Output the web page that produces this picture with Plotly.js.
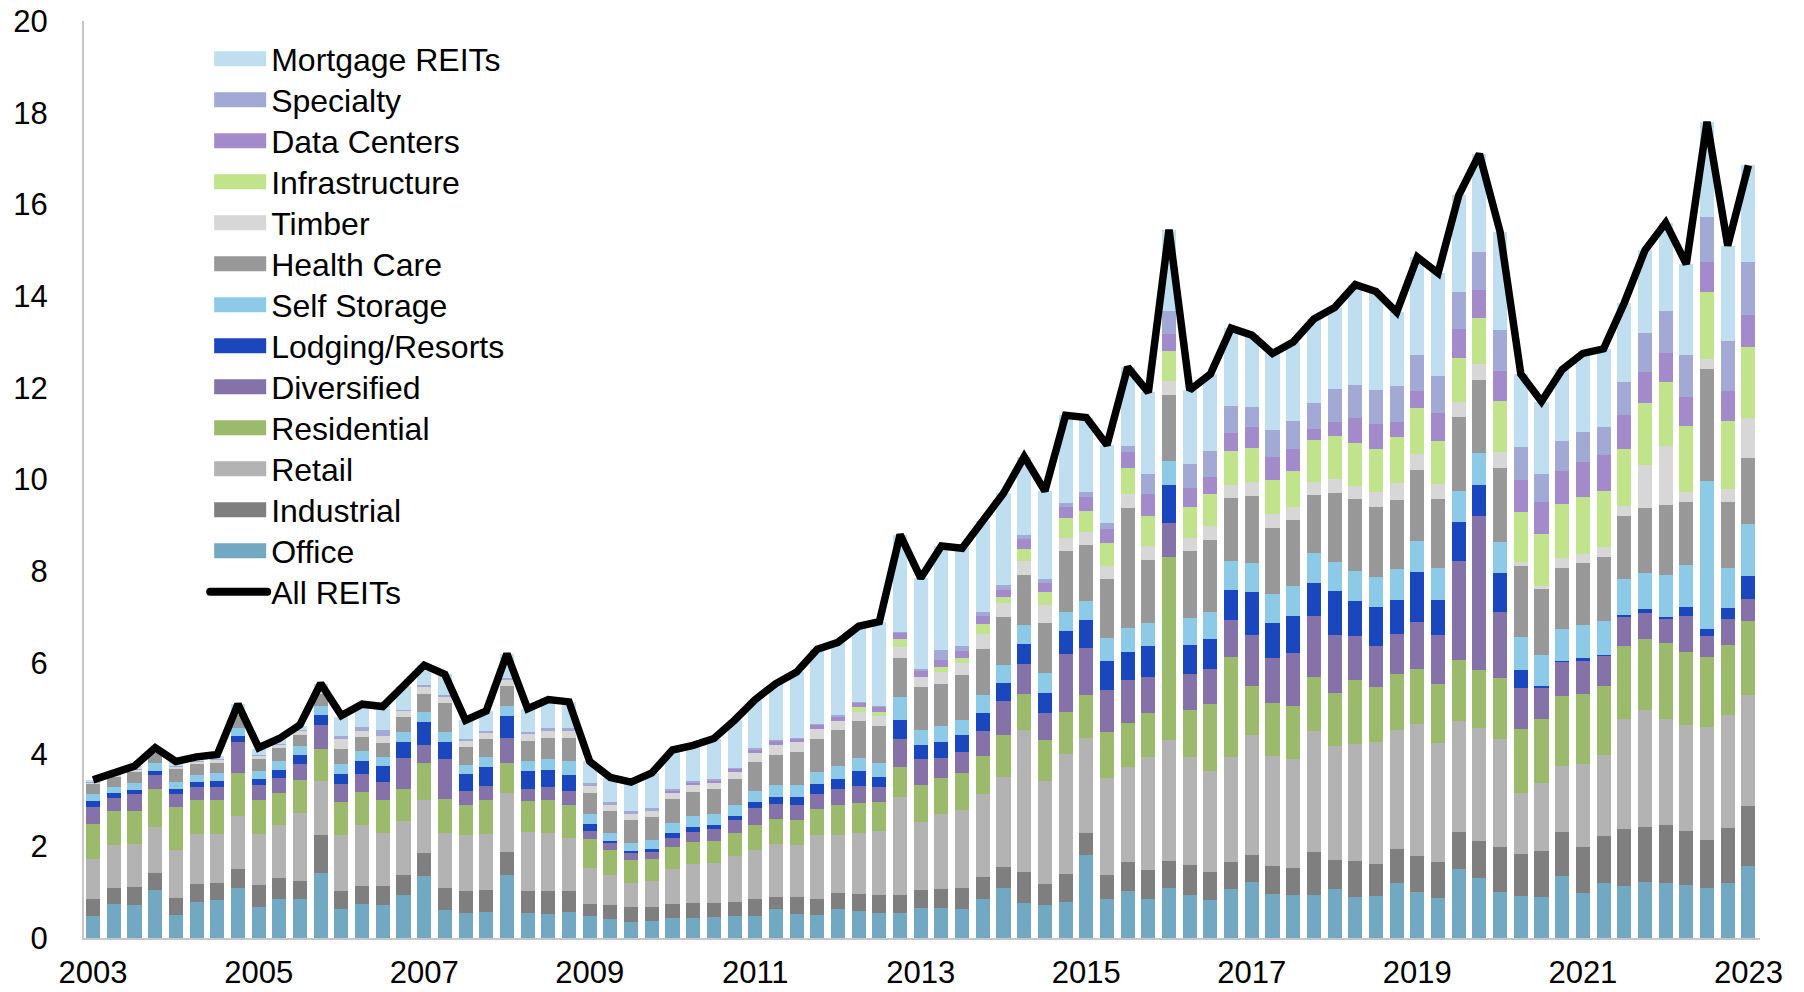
<!DOCTYPE html>
<html>
<head>
<meta charset="utf-8">
<script src="https://cdn.plot.ly/plotly-3.0.1.min.js"></script>
<style>
  html, body { margin: 0; padding: 0; background: #fff; }
  #chart { width: 1804px; height: 992px; }
</style>
</head>
<body>
<div id="chart"></div>
<script>
// Quarterly data, 2003 to 2023 (81 quarters), stacked by property sector
var quarters = []
for (let i = 0; i < 81; i++) {
    quarters.push(2003 + i / 4)
}
var tickYears = [2003, 2005, 2007, 2009, 2011, 2013, 2015, 2017, 2019, 2021, 2023]

var office = [0.49, 0.74, 0.73, 1.05, 0.50, 0.78, 0.82, 1.08, 0.68, 0.86, 0.86, 1.41, 0.63, 0.74,
    0.72, 0.94, 1.36, 0.60, 0.55, 0.56, 1.37, 0.54, 0.52, 0.56, 0.47, 0.41, 0.35, 0.37,
    0.44, 0.44, 0.45, 0.47, 0.48, 0.64, 0.52, 0.51, 0.63, 0.59, 0.55, 0.55, 0.65, 0.65,
    0.64, 0.86, 1.10, 0.76, 0.72, 0.79, 1.80, 0.86, 1.03, 0.84, 1.10, 0.93, 0.82, 1.06,
    1.23, 0.96, 0.94, 0.93, 1.06, 0.90, 0.91, 1.20, 1.00, 0.88, 1.51, 1.31, 1.00, 0.91,
    0.89, 1.35, 0.98, 1.19, 1.14, 1.22, 1.21, 1.15, 1.10, 1.21, 1.58]
var industrial = [0.35, 0.36, 0.39, 0.37, 0.38, 0.39, 0.39, 0.42, 0.47, 0.45, 0.38, 0.84, 0.40, 0.39,
    0.42, 0.43, 0.50, 0.48, 0.48, 0.49, 0.51, 0.49, 0.51, 0.47, 0.27, 0.32, 0.32, 0.31,
    0.30, 0.32, 0.32, 0.32, 0.37, 0.26, 0.37, 0.35, 0.36, 0.36, 0.38, 0.39, 0.39, 0.41,
    0.45, 0.48, 0.44, 0.67, 0.45, 0.60, 0.48, 0.51, 0.62, 0.65, 0.59, 0.66, 0.62, 0.60,
    0.59, 0.62, 0.59, 0.94, 0.65, 0.79, 0.71, 0.75, 0.78, 0.77, 0.80, 0.80, 0.98, 0.93,
    1.01, 0.96, 1.00, 1.04, 1.23, 1.21, 1.26, 1.19, 1.04, 1.19, 1.29]
var retail = [0.89, 0.92, 0.94, 1.00, 1.03, 1.09, 1.05, 1.16, 1.12, 1.15, 1.49, 1.17, 1.22, 1.33,
    1.14, 1.18, 1.16, 1.22, 1.21, 1.22, 1.29, 1.28, 1.27, 1.16, 0.78, 0.64, 0.52, 0.56,
    0.77, 0.85, 0.87, 1.00, 1.08, 1.16, 1.13, 1.39, 1.25, 1.35, 1.40, 2.13, 1.48, 1.64,
    1.71, 1.80, 1.98, 3.11, 2.25, 2.63, 2.09, 2.13, 2.09, 2.46, 2.62, 2.35, 2.21, 2.29,
    2.60, 2.39, 2.37, 2.65, 2.48, 2.54, 2.66, 2.59, 2.88, 2.60, 2.42, 2.47, 2.35, 1.33,
    1.49, 1.44, 1.82, 1.77, 2.41, 2.54, 2.31, 2.31, 2.47, 2.46, 2.44]
var residential = [0.75, 0.75, 0.72, 0.82, 0.94, 0.75, 0.74, 0.94, 0.75, 0.71, 0.71, 0.70, 0.72, 0.72,
    0.73, 0.70, 0.79, 0.73, 0.67, 0.73, 0.64, 0.67, 0.70, 0.71, 0.63, 0.54, 0.51, 0.48,
    0.47, 0.49, 0.48, 0.49, 0.53, 0.53, 0.55, 0.56, 0.66, 0.64, 0.64, 0.67, 0.82, 0.78,
    0.80, 0.82, 0.90, 0.78, 0.89, 0.90, 0.94, 1.00, 0.94, 0.95, 4.00, 1.03, 1.45, 2.18,
    1.08, 1.15, 1.16, 1.18, 1.16, 1.39, 1.19, 1.22, 1.21, 1.29, 1.34, 1.27, 1.35, 1.39,
    1.38, 1.52, 1.53, 1.50, 1.58, 1.56, 1.66, 1.58, 1.52, 1.54, 1.61]
var diversified = [0.38, 0.28, 0.36, 0.31, 0.29, 0.29, 0.30, 0.67, 0.32, 0.31, 0.35, 0.52, 0.39, 0.40,
    0.40, 0.67, 0.39, 0.87, 0.29, 0.31, 0.55, 0.28, 0.29, 0.30, 0.18, 0.16, 0.16, 0.16,
    0.21, 0.22, 0.25, 0.29, 0.37, 0.33, 0.33, 0.34, 0.35, 0.37, 0.32, 0.60, 0.56, 0.44,
    0.45, 0.56, 0.75, 0.66, 0.59, 1.28, 1.02, 0.91, 0.95, 0.80, 0.75, 0.78, 0.77, 0.81,
    1.11, 0.98, 1.16, 1.33, 1.25, 0.96, 0.89, 0.86, 1.03, 1.07, 2.16, 3.35, 1.42, 0.89,
    0.68, 0.74, 0.72, 0.64, 0.65, 0.56, 0.52, 0.80, 0.46, 0.55, 0.48]
var lodging = [0.12, 0.12, 0.09, 0.10, 0.11, 0.10, 0.12, 0.13, 0.13, 0.18, 0.21, 0.23, 0.22, 0.28,
    0.35, 0.36, 0.52, 0.37, 0.37, 0.43, 0.48, 0.39, 0.38, 0.35, 0.16, 0.04, 0.04, 0.06,
    0.11, 0.11, 0.10, 0.10, 0.13, 0.16, 0.18, 0.21, 0.21, 0.34, 0.23, 0.41, 0.30, 0.35,
    0.37, 0.38, 0.39, 0.44, 0.45, 0.49, 0.60, 0.63, 0.61, 0.67, 0.81, 0.64, 0.65, 0.66,
    0.93, 0.76, 0.81, 0.71, 0.96, 0.77, 0.85, 0.76, 1.08, 0.77, 0.84, 0.69, 0.85, 0.40,
    0.05, 0.03, 0.05, 0.04, 0.03, 0.08, 0.05, 0.18, 0.15, 0.24, 0.50]
var selfStorage = [0.15, 0.13, 0.15, 0.17, 0.16, 0.15, 0.18, 0.18, 0.18, 0.19, 0.19, 0.20, 0.22, 0.22,
    0.19, 0.21, 0.21, 0.22, 0.21, 0.21, 0.22, 0.22, 0.23, 0.32, 0.21, 0.18, 0.18, 0.20,
    0.20, 0.24, 0.23, 0.24, 0.24, 0.26, 0.26, 0.26, 0.29, 0.28, 0.30, 0.50, 0.33, 0.35,
    0.33, 0.39, 0.40, 0.41, 0.42, 0.42, 0.43, 0.51, 0.53, 0.50, 0.54, 0.58, 0.59, 0.62,
    0.64, 0.65, 0.65, 0.66, 0.64, 0.65, 0.66, 0.67, 0.67, 0.68, 0.68, 0.69, 0.69, 0.71,
    0.68, 0.69, 0.73, 0.73, 0.78, 0.79, 0.91, 0.92, 3.22, 0.89, 1.14]
var healthCare = [0.22, 0.22, 0.25, 0.21, 0.27, 0.24, 0.22, 0.28, 0.26, 0.29, 0.24, 0.26, 0.33, 0.31,
    0.31, 0.32, 0.40, 0.64, 0.39, 0.40, 0.43, 0.43, 0.47, 0.49, 0.47, 0.48, 0.49, 0.51,
    0.54, 0.52, 0.55, 0.56, 0.64, 0.66, 0.72, 0.73, 0.78, 0.80, 0.81, 0.86, 0.94, 0.93,
    0.99, 1.01, 1.05, 1.08, 1.10, 1.33, 1.21, 1.28, 2.60, 1.38, 1.44, 1.46, 1.57, 1.37,
    1.47, 1.44, 1.43, 1.26, 1.51, 1.57, 1.54, 1.51, 1.56, 1.52, 1.61, 1.59, 1.62, 1.55,
    1.43, 1.34, 1.34, 1.40, 1.39, 1.42, 1.52, 1.39, 2.46, 1.42, 1.43]
var timber = [0.03, 0.03, 0.04, 0.04, 0.06, 0.05, 0.06, 0.08, 0.06, 0.07, 0.08, 0.07, 0.22, 0.12,
    0.14, 0.14, 0.14, 0.13, 0.13, 0.13, 0.13, 0.14, 0.14, 0.15, 0.14, 0.14, 0.14, 0.13,
    0.13, 0.14, 0.13, 0.16, 0.20, 0.22, 0.21, 0.21, 0.21, 0.21, 0.22, 0.24, 0.22, 0.26,
    0.26, 0.33, 0.29, 0.31, 0.39, 0.29, 0.29, 0.29, 0.31, 0.31, 0.29, 0.30, 0.30, 0.30,
    0.30, 0.30, 0.28, 0.29, 0.31, 0.29, 0.32, 0.37, 0.34, 0.33, 0.34, 0.34, 0.34, 0.09,
    0.06, 0.22, 0.20, 0.22, 0.22, 0.94, 1.30, 0.20, 0.21, 0.30, 0.88]
var infrastructure = [0, 0, 0, 0, 0, 0, 0, 0, 0, 0, 0, 0, 0, 0,
    0, 0, 0, 0, 0, 0, 0, 0, 0, 0, 0, 0, 0, 0,
    0, 0, 0, 0, 0, 0, 0, 0, 0, 0.09, 0.08, 0.18, 0, 0.10,
    0.11, 0.22, 0.14, 0.26, 0.28, 0.44, 0.45, 0.50, 0.58, 0.65, 0.67, 0.67, 0.70, 0.73,
    0.73, 0.75, 0.80, 0.91, 0.93, 0.94, 0.93, 0.99, 1.02, 0.92, 0.96, 1.02, 1.11, 1.09,
    1.14, 1.17, 1.25, 1.22, 1.24, 1.34, 1.39, 1.44, 1.45, 1.48, 1.55]
var dataCenters = [0, 0, 0, 0, 0, 0, 0, 0, 0, 0, 0, 0, 0, 0,
    0, 0, 0, 0, 0, 0, 0, 0, 0, 0, 0, 0, 0, 0,
    0.03, 0.05, 0.05, 0.06, 0.06, 0.08, 0.08, 0.08, 0.09, 0.10, 0.11, 0.13, 0.14, 0.15,
    0.16, 0.17, 0.15, 0.22, 0.21, 0.22, 0.30, 0.30, 0.33, 0.47, 0.37, 0.41, 0.38, 0.40,
    0.46, 0.48, 0.48, 0.25, 0.30, 0.55, 0.55, 0.33, 0.35, 0.61, 0.62, 0.60, 0.65, 0.71,
    0.71, 0.73, 0.76, 0.78, 0.73, 0.68, 0.64, 0.65, 0.66, 0.66, 0.69]
var specialty = [0.02, 0.01, 0.01, 0.01, 0.02, 0.02, 0.02, 0.02, 0.02, 0.02, 0.03, 0.03, 0.05, 0.09,
    0.13, 0.02, 0.05, 0.04, 0.04, 0.04, 0.06, 0.06, 0.06, 0.06, 0.06, 0.06, 0.06, 0.06,
    0.04, 0.04, 0.04, 0.02, 0.04, 0.02, 0.02, 0.03, 0.03, 0.02, 0.03, 0.02, 0.04, 0.23,
    0.09, 0.09, 0.11, 0.08, 0.09, 0.10, 0.12, 0.13, 0.13, 0.45, 0.50, 0.53, 0.56, 0.58,
    0.44, 0.59, 0.61, 0.55, 0.73, 0.71, 0.74, 0.78, 0.79, 0.81, 0.82, 0.84, 0.89, 0.70,
    0.61, 0.64, 0.66, 0.62, 0.72, 0.85, 0.91, 0.91, 0.98, 1.08, 1.16]
var mortgage = [0.05, 0.04, 0.07, 0.04, 0.07, 0.07, 0.08, 0.14, 0.14, 0.10, 0.08, 0.12, 0.43, 0.50,
    0.52, 0.53, 0.43, 0.45, 0.41, 0.43, 0.52, 0.50, 0.63, 0.58, 0.48, 0.53, 0.63, 0.76,
    0.82, 0.75, 0.88, 1.04, 1.06, 1.23, 1.43, 1.63, 1.59, 1.65, 1.83, 2.12, 1.98, 2.26,
    2.14, 1.99, 2.00, 1.72, 1.91, 1.91, 1.62, 1.70, 1.73, 1.77, 1.77, 1.61, 1.68, 1.70,
    1.57, 1.68, 1.72, 1.84, 1.77, 2.19, 2.15, 1.62, 2.14, 2.25, 2.10, 2.13, 2.15, 1.60,
    1.57, 1.57, 1.71, 1.70, 1.73, 1.81, 1.92, 1.98, 2.08, 2.08, 2.10]
var allReits = [3.45, 3.6, 3.75, 4.15, 3.85, 3.95, 4.0, 5.1, 4.15, 4.35,
    4.65, 5.55, 4.85, 5.1, 5.05, 5.5, 5.95, 5.75, 4.75, 4.95,
    6.2, 5.0, 5.2, 5.15, 3.85, 3.5, 3.4, 3.6, 4.1, 4.2,
    4.35, 4.75, 5.2, 5.55, 5.8, 6.3, 6.45, 6.8, 6.9, 8.8,
    7.85, 8.55, 8.5, 9.1, 9.7, 10.5, 9.75, 11.4, 11.35, 10.75,
    12.45, 11.9, 15.45, 11.95, 12.3, 13.3, 13.15, 12.75, 13.0, 13.5,
    13.75, 14.25, 14.1, 13.65, 14.85, 14.5, 16.2, 17.1, 15.4, 12.3,
    11.7, 12.4, 12.75, 12.85, 13.85, 15.0, 15.6, 14.7, 17.8, 15.1, 16.85]

// bottom of the stack first
var sectors = [
    ['Office', office, '#72a8c2'],
    ['Industrial', industrial, '#7f7f7f'],
    ['Retail', retail, '#b3b3b3'],
    ['Residential', residential, '#9bba6c'],
    ['Diversified', diversified, '#8572a8'],
    ['Lodging/Resorts', lodging, '#1b47be'],
    ['Self Storage', selfStorage, '#8dcae7'],
    ['Health Care', healthCare, '#989898'],
    ['Timber', timber, '#d7d7d7'],
    ['Infrastructure', infrastructure, '#c1e38b'],
    ['Data Centers', dataCenters, '#a28acb'],
    ['Specialty', specialty, '#a2a9d5'],
    ['Mortgage REITs', mortgage, '#bfdff0']
]

var font = 'Liberation Sans, Arial, sans-serif'
var legendRowStep = 41   // px between legend rows in the original

// line goes first so that the reversed legend puts it last
var data = [{
    type: 'scatter',
    mode: 'lines',
    name: 'All REITs',
    x: quarters,
    y: allReits,
    line: {color: '#000000', width: 7.5}
}]
sectors.forEach(function (s) {
    data.push({
        type: 'bar',
        name: s[0],
        x: quarters,
        y: s[1],
        marker: {color: s[2], line: {width: 0}}
    })
})

var layout = {
    width: 1804,
    height: 992,
    barmode: 'stack',
    bargap: 0.32,
    paper_bgcolor: '#ffffff',
    plot_bgcolor: '#ffffff',
    font: {family: font, size: 31, color: '#000000'},
    margin: {l: 84, r: 44, t: 21, b: 54},
    showlegend: true,
    legend: {
        x: 0.0723,
        y: 0.9886,
        xanchor: 'left',
        yanchor: 'top',
        traceorder: 'reversed',
        itemwidth: 56,
        bgcolor: 'rgba(0,0,0,0)',
        font: {family: font, size: 32, color: '#000000'}
    },
    xaxis: {
        range: [2002.89, 2023.14],
        tickvals: tickYears,
        ticktext: tickYears.map(String),
        showgrid: false,
        zeroline: false,
        showline: true,
        linecolor: '#c6c6c6',
        linewidth: 2,
        ticks: '',
        ticklabelstandoff: 6,
        tickfont: {family: font, size: 31, color: '#000000'}
    },
    yaxis: {
        range: [0, 20],
        dtick: 2,
        showgrid: false,
        zeroline: false,
        showline: true,
        linecolor: '#c6c6c6',
        linewidth: 2,
        ticks: '',
        ticklabelstandoff: 28,
        tickfont: {family: font, size: 31, color: '#000000'}
    }
}

Plotly.newPlot('chart', data, layout, {staticPlot: true}).then(function (gd) {
    var items = Array.prototype.slice.call(gd.querySelectorAll('.legend .traces'))
    var pos = items.map(function (item) {
        var m = /translate\(\s*([-\d.]+)[ ,]+([-\d.]+)/.exec(item.getAttribute('transform') || '')
        return {item: item, x: m ? parseFloat(m[1]) : 0, y: m ? parseFloat(m[2]) : 0}
    })
    pos.sort(function (a, b) { return a.y - b.y })
    pos.forEach(function (p, k) {
        // tighter rows, like the original legend
        p.item.setAttribute('transform', 'translate(' + p.x + ',' + (pos[0].y + k * legendRowStep) + ')')
        var text = p.item.querySelector('.legendtext')
        var tx = parseFloat(text.getAttribute('x')) || 40
        // wide flat swatches
        p.item.querySelectorAll('.legendpoints path').forEach(function (path) {
            path.setAttribute('transform', '')
            path.setAttribute('d', 'M' + (tx - 57) + ',-7.5H' + (tx - 5) + 'V7.5H' + (tx - 57) + 'Z')
        })
        p.item.querySelectorAll('.legendlines path').forEach(function (path) {
            path.setAttribute('transform', '')
            path.setAttribute('d', 'M' + (tx - 61) + ',0H' + (tx - 4))
            path.style.strokeWidth = '8px'
            path.style.strokeLinecap = 'round'
        })
    })
})
</script>
</body>
</html>
